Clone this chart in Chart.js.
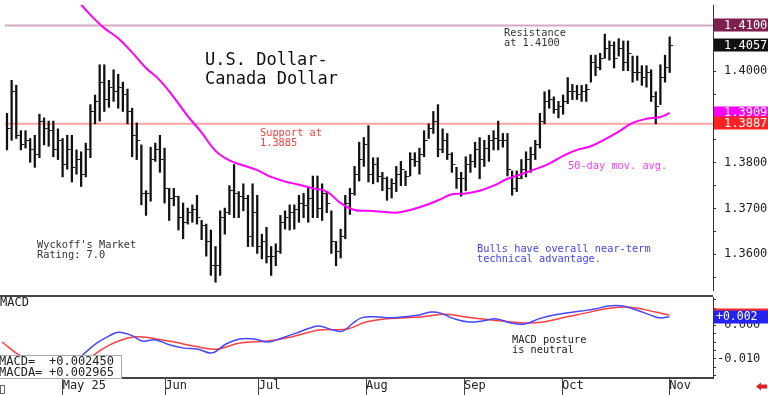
<!DOCTYPE html>
<html>
<head>
<meta charset="utf-8">
<title>U.S. Dollar - Canada Dollar</title>
<script src="https://cdn.jsdelivr.net/npm/chart.js@4.4.1/dist/chart.umd.min.js"></script>
<style>
  body { margin: 0; background: #fff; }
  #wrap { position: relative; width: 768px; height: 395px; overflow: hidden; }
  canvas { position: absolute; left: 0; }
  #priceChart { top: 0; }
  #macdChart { top: 295px; }
</style>
</head>
<body>
<div id="wrap">
  <canvas id="priceChart" width="768" height="295"></canvas>
  <canvas id="macdChart" width="768" height="100"></canvas>
</div>
<script>
const FONT = '"DejaVu Sans Mono", monospace';
Chart.defaults.font.family = FONT;
Chart.defaults.color = "#222";

// daily USD/CAD bars, index 0 = mid April 2025
const highs = [
  1.3908, 1.3980, 1.3969, 1.3870, 1.3870, 1.3853, 1.3860, 1.3906, 1.3898, 1.3891,
  1.3891, 1.3874, 1.3853, 1.3860, 1.3860, 1.3828, 1.3824, 1.3843, 1.3927, 1.3948,
  1.4014, 1.4014, 1.3980, 1.4003, 1.3993, 1.3976, 1.3961, 1.3919, 1.3887, 1.3839,
  1.3739, 1.3834, 1.3843, 1.3860, 1.3832, 1.3744, 1.3744, 1.3727, 1.3712, 1.3701,
  1.3708, 1.3729, 1.3674, 1.3666, 1.3653, 1.3617, 1.3695, 1.3701, 1.3750, 1.3796,
  1.3737, 1.3754, 1.3729, 1.3754, 1.3729, 1.3644, 1.3659, 1.3617, 1.3623, 1.3685,
  1.3695, 1.3708, 1.3708, 1.3729, 1.3733, 1.3744, 1.3771, 1.3771, 1.3754, 1.3737,
  1.3695, 1.3628, 1.3655, 1.3729, 1.3744, 1.3792, 1.3845, 1.3855, 1.3881, 1.3811,
  1.3811, 1.3779, 1.3769, 1.3765, 1.3792, 1.3803, 1.3782, 1.3822, 1.3822, 1.3832,
  1.3870, 1.3885, 1.3912, 1.3927, 1.3874, 1.3864, 1.3822, 1.3790, 1.3779, 1.3813,
  1.3818, 1.3845, 1.3855, 1.3849, 1.3860, 1.3870, 1.3891, 1.3864, 1.3864, 1.3782,
  1.3782, 1.3807, 1.3824, 1.3834, 1.3849, 1.3908, 1.3955, 1.3959, 1.3944, 1.3934,
  1.3948, 1.3986, 1.3971, 1.3969, 1.3969, 1.3971, 1.4035, 1.4035, 1.4039, 1.4081,
  1.4066, 1.4064, 1.4071, 1.4066, 1.4066, 1.4033, 1.4033, 1.4012, 1.4012, 1.4003,
  1.3955, 1.4014, 1.4035, 1.4075
];
const lows = [
  1.3828, 1.3849, 1.3853, 1.3828, 1.3832, 1.3801, 1.3790, 1.3811, 1.3839, 1.3836,
  1.3813, 1.3807, 1.3769, 1.3786, 1.3758, 1.3775, 1.3748, 1.3769, 1.3811, 1.3885,
  1.3891, 1.3912, 1.3921, 1.3934, 1.3919, 1.3912, 1.3885, 1.3813, 1.3807, 1.3708,
  1.3685, 1.3716, 1.3803, 1.3779, 1.3712, 1.3674, 1.3706, 1.3653, 1.3634, 1.3666,
  1.3670, 1.3666, 1.3632, 1.3596, 1.3554, 1.3539, 1.3554, 1.3644, 1.3687, 1.3680,
  1.3680, 1.3695, 1.3617, 1.3617, 1.3602, 1.3590, 1.3581, 1.3554, 1.3575, 1.3602,
  1.3655, 1.3653, 1.3655, 1.3670, 1.3680, 1.3670, 1.3680, 1.3680, 1.3674, 1.3691,
  1.3602, 1.3575, 1.3592, 1.3634, 1.3687, 1.3729, 1.3760, 1.3792, 1.3758, 1.3754,
  1.3758, 1.3739, 1.3718, 1.3723, 1.3737, 1.3750, 1.3750, 1.3771, 1.3792, 1.3775,
  1.3813, 1.3853, 1.3864, 1.3813, 1.3822, 1.3807, 1.3779, 1.3744, 1.3727, 1.3739,
  1.3779, 1.3790, 1.3765, 1.3792, 1.3803, 1.3828, 1.3828, 1.3834, 1.3771, 1.3729,
  1.3737, 1.3765, 1.3769, 1.3779, 1.3807, 1.3832, 1.3885, 1.3919, 1.3908, 1.3898,
  1.3906, 1.3929, 1.3938, 1.3938, 1.3934, 1.3934, 1.3976, 1.3990, 1.4003, 1.4028,
  1.4024, 1.4007, 1.4033, 1.4001, 1.4001, 1.3976, 1.3980, 1.3969, 1.3965, 1.3934,
  1.3885, 1.3927, 1.3976, 1.3997
];
const closes = [
  1.3874, 1.3955, 1.3860, 1.3839, 1.3849, 1.3828, 1.3818, 1.3891, 1.3874, 1.3870,
  1.3828, 1.3849, 1.3796, 1.3828, 1.3790, 1.3807, 1.3775, 1.3828, 1.3912, 1.3934,
  1.3976, 1.3938, 1.3965, 1.3955, 1.3965, 1.3950, 1.3912, 1.3860, 1.3849, 1.3733,
  1.3733, 1.3807, 1.3828, 1.3807, 1.3744, 1.3723, 1.3727, 1.3680, 1.3670, 1.3691,
  1.3697, 1.3680, 1.3663, 1.3628, 1.3575, 1.3575, 1.3680, 1.3691, 1.3739, 1.3733,
  1.3727, 1.3723, 1.3638, 1.3691, 1.3617, 1.3628, 1.3596, 1.3596, 1.3606, 1.3670,
  1.3680, 1.3691, 1.3697, 1.3712, 1.3706, 1.3723, 1.3744, 1.3701, 1.3733, 1.3712,
  1.3628, 1.3606, 1.3638, 1.3712, 1.3733, 1.3775, 1.3807, 1.3839, 1.3775, 1.3796,
  1.3769, 1.3765, 1.3744, 1.3754, 1.3775, 1.3786, 1.3769, 1.3807, 1.3803, 1.3818,
  1.3849, 1.3874, 1.3891, 1.3828, 1.3849, 1.3818, 1.3796, 1.3765, 1.3765, 1.3796,
  1.3803, 1.3828, 1.3807, 1.3832, 1.3849, 1.3853, 1.3849, 1.3849, 1.3786, 1.3744,
  1.3765, 1.3786, 1.3807, 1.3818, 1.3839, 1.3891, 1.3934, 1.3938, 1.3917, 1.3923,
  1.3934, 1.3955, 1.3955, 1.3950, 1.3955, 1.3959, 1.4018, 1.4007, 1.4028, 1.4050,
  1.4056, 1.4028, 1.4050, 1.4018, 1.4039, 1.3997, 1.3997, 1.3986, 1.3997, 1.3944,
  1.3923, 1.3986, 1.4007, 1.4057
];

// 50-day moving average, read at these bar indices
const maIdx = [15, 18, 21, 24, 27, 30, 33, 36, 39, 42, 45, 48, 51, 54, 57, 60, 63, 66, 69, 72,
  75, 78, 81, 84, 87, 90, 93, 96, 99, 102, 105, 108, 111, 114, 117, 120, 123, 126, 129, 132,
  135, 138, 141, 143];
const maVals = [1.4157, 1.4123, 1.4094, 1.4072, 1.4041, 1.4007, 1.3980, 1.3943, 1.3902, 1.3866,
  1.3826, 1.3805, 1.3794, 1.3784, 1.3769, 1.3759, 1.3752, 1.3744, 1.3737, 1.3712,
  1.3697, 1.3695, 1.3693, 1.3691, 1.3697, 1.3706, 1.3718, 1.3731, 1.3733, 1.3739,
  1.3750, 1.3765, 1.3775, 1.3786, 1.3798, 1.3815, 1.3828, 1.3836, 1.3851, 1.3868,
  1.3887, 1.3896, 1.3900, 1.3909];

// MACD (blue) and MACDA signal (red)
const macdIdx = [0, 8, 14, 17, 20, 23, 25, 28, 30, 33, 36, 39, 42, 45, 48, 51, 54, 57, 60, 63,
  66, 68, 71, 73, 75, 77, 80, 83, 86, 89, 92, 94, 97, 100, 103, 106, 109, 112, 115, 118,
  121, 124, 127, 130, 133, 136, 139, 141, 143];
const macdVals = [-0.0132, -0.0147, -0.0135, -0.0092, -0.0056, -0.0032, -0.0021, -0.0032, -0.0047, -0.0044,
  -0.0059, -0.0068, -0.0071, -0.0082, -0.0056, -0.0041, -0.0041, -0.0050, -0.0038, -0.0024,
  -0.0009, -0.0003, -0.0015, -0.0018, 0.0003, 0.0021, 0.0024, 0.0021, 0.0024, 0.0029,
  0.0038, 0.0035, 0.0018, 0.0009, 0.0012, 0.0018, 0.0006, 0.0003, 0.0018, 0.0029,
  0.0035, 0.0041, 0.0047, 0.0056, 0.0056, 0.0044, 0.0029, 0.0021, 0.00245];
const macdaIdx = [0, 4, 10, 16, 20, 23, 27, 30, 33, 37, 41, 46, 51, 57, 62, 68, 74, 78, 82, 86,
  90, 95, 99, 103, 107, 112, 116, 121, 125, 129, 133, 136, 140, 143];
const macdaVals = [-0.0050, -0.0091, -0.0126, -0.0121, -0.0085, -0.0059, -0.0038, -0.0035, -0.0041, -0.0050,
  -0.0062, -0.0071, -0.0053, -0.0047, -0.0035, -0.0015, -0.0012, 0.0009, 0.0018, 0.0021,
  0.0024, 0.0032, 0.0024, 0.0018, 0.0012, 0.0006, 0.0009, 0.0024, 0.0035, 0.0047,
  0.0053, 0.0050, 0.0038, 0.002965];

const monthIdx = [13, 35, 55, 78, 99, 120, 143];
const monthLabels = ["May 25", "Jun", "Jul", "Aug", "Sep", "Oct", "Nov"];

const priceTicks = [1.355, 1.36, 1.365, 1.37, 1.375, 1.38, 1.385, 1.39, 1.395, 1.40, 1.405, 1.41];
const macdTicks = [-0.015, -0.0125, -0.01, -0.0075, -0.005, -0.0025, 0, 0.0025, 0.005, 0.0075];

const resistance = 1.41;
const support = 1.3885;
const supportMark = 1.3887;

const X_MIN = -0.43, X_MAX = 152.35;

// little close tick to the right of each bar
const tick = document.createElement("canvas");
tick.width = 9;
tick.height = 1;
const tctx = tick.getContext("2d");
tctx.fillStyle = "#1a1a1a";
tctx.fillRect(5, 0, 3, 1);

const isCent = v => Math.abs(v * 100 - Math.round(v * 100)) < 1e-6;
const signed = (v, d) => (v >= 0 ? "+" : "-") + Math.abs(v).toFixed(d);

const priceNotes = {
  id: "priceNotes",
  beforeDatasetsDraw(chart) {
    const { ctx, chartArea: a, scales: { y } } = chart;
    ctx.save();
    ctx.lineWidth = 2;
    [[resistance, "#d5a7c0"], [support, "#ffa2a2"]].forEach(([v, c]) => {
      const py = y.getPixelForValue(v);
      ctx.strokeStyle = c;
      ctx.beginPath();
      ctx.moveTo(a.left, py);
      ctx.lineTo(a.right, py);
      ctx.stroke();
    });
    ctx.restore();
  },
  afterDraw(chart) {
    const { ctx, scales: { y } } = chart;
    ctx.save();
    ctx.textBaseline = "alphabetic";
    ctx.font = "17px " + FONT;
    ctx.fillStyle = "#111";
    ctx.fillText("U.S. Dollar-", 205, 65);
    ctx.fillText("Canada Dollar", 205, 83.5);

    ctx.textBaseline = "middle";
    ctx.font = "10.3px " + FONT;
    const notes = [
      ["Resistance", 504, 33, "#333"],
      ["at 1.4100", 504, 43, "#333"],
      ["Support at", 260, 133, "#ff3d3d"],
      ["1.3885", 260, 143.5, "#ff3d3d"],
      ["50-day mov. avg.", 568, 166, "#ff3cff"],
      ["Wyckoff's Market", 37, 245, "#333"],
      ["Rating: 7.0", 37, 255.5, "#333"],
      ["Bulls have overall near-term", 477, 249, "#3f3fff"],
      ["technical advantage.", 477, 259.5, "#3f3fff"]
    ];
    notes.forEach(([t, x, py, c]) => {
      ctx.fillStyle = c;
      ctx.fillText(t, x, py);
    });

    // value boxes on the price axis
    ctx.font = "12px " + FONT;
    const boxes = [
      [resistance, "#7f1f4f"],
      [closes[closes.length - 1], "#111"],
      [maVals[maVals.length - 1], "#ff00ff"],
      [supportMark, "#ff2222"]
    ];
    boxes.forEach(([v, bg]) => {
      const py = y.getPixelForValue(v);
      ctx.fillStyle = bg;
      ctx.fillRect(714, Math.round(py) - 6.5, 54, 13);
      ctx.fillStyle = "#fff";
      ctx.fillText(v.toFixed(4), 724, py + 0.5);
    });
    ctx.restore();
  }
};

const lastMacd = macdVals[macdVals.length - 1];
const lastMacda = macdaVals[macdaVals.length - 1];

const macdNotes = {
  id: "macdNotes",
  afterDraw(chart) {
    const { ctx, scales: { y } } = chart;
    ctx.save();
    ctx.fillStyle = "#444";
    ctx.fillRect(0, 0, 713, 2);

    ctx.textBaseline = "middle";
    ctx.fillStyle = "#222";
    ctx.font = "12px " + FONT;
    ctx.fillText("MACD", 0, 8);

    ctx.font = "10.3px " + FONT;
    ctx.fillText("MACD posture", 512, 45);
    ctx.fillText("is neutral", 512, 55.5);

    // readout box bottom left
    ctx.fillStyle = "#fff";
    ctx.fillRect(-1, 60, 123, 23);
    ctx.strokeStyle = "#aaa";
    ctx.lineWidth = 1;
    ctx.strokeRect(-0.5, 60.5, 122, 23);
    ctx.fillStyle = "#222";
    ctx.font = "12px " + FONT;
    ctx.fillText("MACD=", -1, 66.5);
    ctx.fillText(signed(lastMacd, 6), 49, 66.5);
    ctx.fillText("MACDA=", -1, 77.5);
    ctx.fillText(signed(lastMacda, 6), 49, 77.5);

    // value boxes on the MACD axis
    let py = y.getPixelForValue(lastMacda);
    ctx.fillStyle = "#ff2a2a";
    ctx.fillRect(714, Math.round(py) - 6.5, 54, 13);
    py = y.getPixelForValue(lastMacd);
    ctx.fillStyle = "#2424f0";
    ctx.fillRect(714, Math.round(py) - 6.5, 54, 13);
    ctx.fillStyle = "#fff";
    ctx.font = "11.5px " + FONT;
    ctx.fillText(signed(lastMacd, 3), 716, py + 0.5);

    // small marks in the bottom corners
    ctx.strokeStyle = "#666";
    ctx.strokeRect(0.5, 90.5, 4, 8);
    ctx.fillStyle = "#e02020";
    ctx.beginPath();
    ctx.moveTo(756, 91.5);
    ctx.lineTo(761, 87.5);
    ctx.lineTo(761, 89.5);
    ctx.lineTo(767, 89.5);
    ctx.lineTo(767, 93.5);
    ctx.lineTo(761, 93.5);
    ctx.lineTo(761, 95.5);
    ctx.closePath();
    ctx.fill();
    ctx.restore();
  }
};

new Chart(document.getElementById("priceChart"), {
  type: "line",
  data: {
    datasets: [
      {
        type: "bar",
        data: highs.map((h, i) => ({ x: i, y: [lows[i], h] })),
        backgroundColor: "#111",
        barThickness: 1.6,
        borderWidth: 0,
        order: 2
      },
      {
        data: closes.map((c, i) => ({ x: i, y: c })),
        showLine: false,
        pointStyle: tick,
        pointRadius: 3,
        order: 1
      },
      {
        data: maIdx.map((d, k) => ({ x: d, y: maVals[k] })),
        borderColor: "#ff00ff",
        borderWidth: 2,
        pointRadius: 0,
        tension: 0.4,
        order: 0
      }
    ]
  },
  options: {
    responsive: false,
    animation: false,
    events: [],
    layout: { padding: 0 },
    plugins: { legend: { display: false }, tooltip: { enabled: false } },
    scales: {
      x: { type: "linear", display: false, min: X_MIN, max: X_MAX, offset: false },
      y: {
        type: "linear",
        position: "right",
        min: 1.35221,
        max: 1.41445,
        beginAtZero: false,
        afterBuildTicks: s => { s.ticks = priceTicks.map(v => ({ value: v })); },
        afterFit: s => { s.width = 55; s.paddingTop = 0; s.paddingBottom = 0; },
        ticks: {
          autoSkip: false,
          padding: 8,
          font: { size: 12 },
          color: "#222",
          callback: v => (isCent(v) ? v.toFixed(4) : "")
        },
        grid: { drawOnChartArea: false, tickLength: 3, color: "#333" },
        border: { display: true, color: "#333", width: 1 }
      }
    }
  },
  plugins: [priceNotes]
});

new Chart(document.getElementById("macdChart"), {
  type: "line",
  data: {
    datasets: [
      {
        data: macdIdx.map((d, k) => ({ x: d, y: macdVals[k] })),
        borderColor: "#4646ff",
        borderWidth: 1.5,
        pointRadius: 0,
        tension: 0.4
      },
      {
        data: macdaIdx.map((d, k) => ({ x: d, y: macdaVals[k] })),
        borderColor: "#ff4040",
        borderWidth: 1.5,
        pointRadius: 0,
        tension: 0.4
      }
    ]
  },
  options: {
    responsive: false,
    animation: false,
    events: [],
    layout: { padding: { top: 2 } },
    plugins: { legend: { display: false }, tooltip: { enabled: false } },
    scales: {
      x: {
        type: "linear",
        min: X_MIN,
        max: X_MAX,
        offset: false,
        afterBuildTicks: s => { s.ticks = monthIdx.map(v => ({ value: v })); },
        afterFit: s => { s.height = 17; s.paddingLeft = 0; s.paddingRight = 0; },
        ticks: {
          autoSkip: false,
          maxRotation: 0,
          align: "start",
          padding: -16,
          font: { size: 12 },
          color: "#222",
          callback: (v, i) => monthLabels[i]
        },
        grid: { drawOnChartArea: false, tickLength: 17, color: "#444" },
        border: { display: true, color: "#444", width: 2 }
      },
      y: {
        type: "linear",
        position: "right",
        min: -0.01559,
        max: 0.00824,
        afterBuildTicks: s => { s.ticks = macdTicks.map(v => ({ value: v })); },
        afterFit: s => { s.width = 55; s.paddingTop = 0; s.paddingBottom = 0; },
        ticks: {
          autoSkip: false,
          padding: 1,
          font: { size: 12 },
          color: "#222",
          callback: v => (Math.abs(v) < 1e-9 ? " 0.000" : Math.abs(v + 0.01) < 1e-9 ? "-0.010" : "")
        },
        grid: { drawOnChartArea: false, tickLength: 3, color: "#333" },
        border: { display: true, color: "#333", width: 1 }
      }
    }
  },
  plugins: [macdNotes]
});
</script>
</body>
</html>
